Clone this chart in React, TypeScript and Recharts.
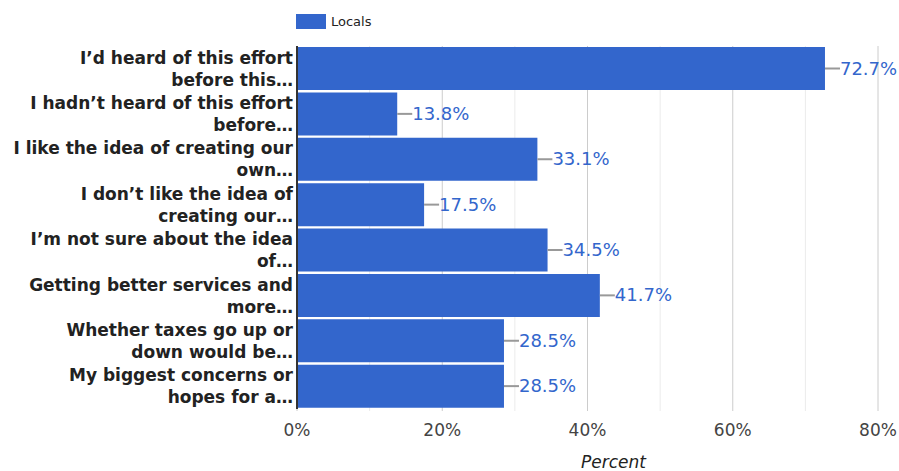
import { Bar, BarChart, XAxis, YAxis, CartesianGrid, Legend, LabelList, Label } from 'recharts'

// survey answers, shown truncated the same way as the original chart
const categories = [
    'I’d heard of this effort\nbefore this…',
    'I hadn’t heard of this effort\nbefore…',
    'I like the idea of creating our\nown…',
    'I don’t like the idea of\ncreating our…',
    'I’m not sure about the idea\nof…',
    'Getting better services and\nmore…',
    'Whether taxes go up or\ndown would be…',
    'My biggest concerns or\nhopes for a…',
];
const locals = [72.7, 13.8, 33.1, 17.5, 34.5, 41.7, 28.5, 28.5];
const gridTicks = [0, 10, 20, 30, 40, 50, 60, 70, 80];
const labelledTicks = [0, 20, 40, 60, 80];

const data = categories.map((name, i) => ({ name, locals: locals[i] }));

const FONT = '"DejaVu Sans", sans-serif';

const CategoryTick = (props: any) => {
    const { x, y, payload } = props;
    const lines = String(payload.value).split('\n');
    return (
        <text x={x} y={y} textAnchor='end' fill='#222' fontSize={17} fontWeight='bold' fontFamily={FONT}>
            {lines.map((line, i) => (
                <tspan key={i} x={x} y={y - 5 + i * 22}>{line}</tspan>
            ))}
        </text>
    );
};

const ValueLabel = (props: any) => {
    const { x, y, width, height, value } = props;
    const end = x + width;
    const mid = y + height / 2;
    return (
        <g>
            <line x1={end} y1={mid} x2={end + 15} y2={mid} stroke='#999' strokeWidth={2} />
            <text x={end + 15} y={mid + 6} fill='#3366cc' fontSize={18} fontFamily={FONT}>{value.toFixed(1)}%</text>
        </g>
    );
};

const LegendContent = () => (
    <div style={{ display: 'flex', alignItems: 'center', fontFamily: FONT, fontSize: 13, color: '#222' }}>
        <span style={{ display: 'inline-block', width: 30, height: 15, background: '#3366cc', marginRight: 5 }} />
        <span>Locals</span>
    </div>
);

// major lines (labelled ticks) darker, minor ones lighter
const GridLine = (props: any) => {
    const major = props.index % 2 === 0;
    return (
        <line
            key={`v-${props.index}`}
            x1={props.x1}
            y1={props.y1}
            x2={props.x2}
            y2={props.y2 + 2}
            stroke={major ? '#cccccc' : '#ebebeb'}
            strokeWidth={1}
        />
    );
};

const App = () => {
    return (
        <div style={{ position: 'absolute', left: 0, top: 0, width: 899, height: 471 }}>
            <BarChart
                width={899}
                height={471}
                data={data}
                layout='vertical'
                margin={{ top: 46, right: 21, bottom: 32, left: 0 }}
                barCategoryGap={1}
            >
                <Legend
                    layout='horizontal'
                    verticalAlign='middle'
                    align='center'
                    content={LegendContent}
                    wrapperStyle={{ top: 14, left: 296, width: 'auto', height: 'auto' }}
                />
                <CartesianGrid horizontal={false} vertical={GridLine} />
                <XAxis
                    type='number'
                    domain={[0, 80]}
                    ticks={gridTicks}
                    interval={0}
                    tickFormatter={(v) => (labelledTicks.includes(v) ? `${v}%` : '')}
                    axisLine={false}
                    tickLine={false}
                    height={30}
                    tickMargin={9}
                    tick={{ fill: '#444', fontSize: 17, fontFamily: FONT }}
                >
                    <Label value='Percent' position='bottom' offset={17} dx={26} fill='#222' fontSize={17} fontStyle='italic' fontFamily={FONT} />
                </XAxis>
                <YAxis
                    type='category'
                    dataKey='name'
                    width={297}
                    tickLine={false}
                    tickSize={0}
                    axisLine={{ stroke: '#333', strokeWidth: 2 }}
                    tick={<CategoryTick />}
                    tickMargin={4}
                    interval={0}
                />
                <Bar dataKey='locals' fill='#3366cc' isAnimationActive={false}>
                    <LabelList dataKey='locals' content={<ValueLabel />} />
                </Bar>
            </BarChart>
        </div>
    );
};

export default App;
